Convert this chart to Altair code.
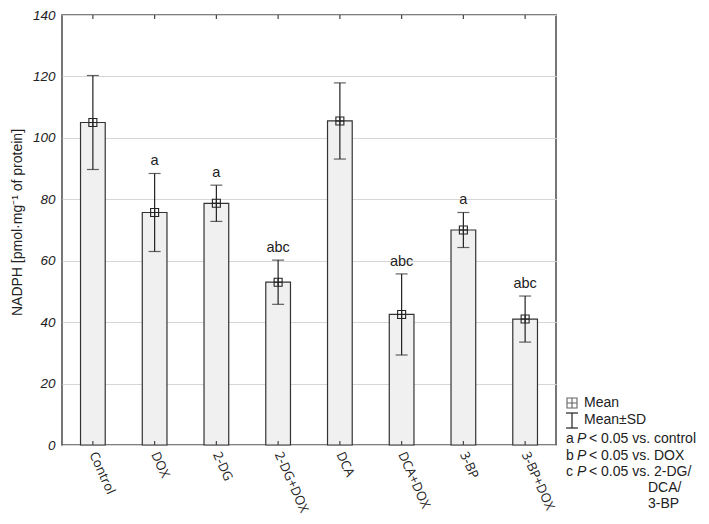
import altair as alt
import pandas as pd

groups = ["Control", "DOX", "2-DG", "2-DG+DOX", "DCA", "DCA+DOX", "3-BP", "3-BP+DOX"]
means = [105.0, 75.7, 78.7, 53.0, 105.5, 42.5, 70.0, 41.0]
sd_hi = [120.3, 88.4, 84.6, 60.2, 117.9, 55.7, 75.7, 48.5]
sd_lo = [89.7, 63.0, 72.8, 45.8, 93.1, 29.3, 64.3, 33.5]
letters = ["", "a", "a", "abc", "", "abc", "a", "abc"]
y_ticks = [0, 20, 40, 60, 80, 100, 120, 140]

legend_labels = ["Mean", "Mean±SD"]
sig_letters = ["a", "b", "c"]
sig_texts = ["< 0.05 vs. control", "< 0.05 vs. DOX", "< 0.05 vs. 2-DG/"]
sig_cont = ["DCA/", "3-BP"]

W, H = 494, 430
TOP = 7
FONT = "Liberation Sans"

df = pd.DataFrame({"group": groups, "mean": means, "hi": sd_hi, "lo": sd_lo, "letter": letters})

x = alt.X("group:N", sort=groups, title=None,
          scale=alt.Scale(paddingInner=0.6, paddingOuter=0.3),
          axis=alt.Axis(labelAngle=66, labelAlign="left", labelBaseline="middle",
                        labelPadding=7, labelFont="Open Sans", labelFontSize=13,
                        labelColor="#222", ticks=False, domain=False))
yscale = alt.Scale(domain=[0, 140], nice=False)
y = alt.Y("mean:Q", scale=yscale,
          title="NADPH [pmol·mg⁻¹ of protein]",
          axis=alt.Axis(values=y_ticks, labelFontStyle="italic", labelFontSize=13.5,
                        labelFont=FONT, labelColor="#222", labelPadding=7,
                        ticks=False, domain=False, grid=True, gridColor="#d6d6d6",
                        titleFont=FONT, titleFontSize=14, titleFontWeight="normal",
                        titleColor="#222", titlePadding=8, titleY=222 - 8 - TOP))

base = alt.Chart(df)

bars = base.mark_bar(fill="#f0f0f0", stroke="#333", strokeWidth=1.2).encode(x=x, y=y)

err = base.mark_rule(color="#222", strokeWidth=1.2).encode(
    x=alt.X("group:N", sort=groups), y=alt.Y("lo:Q", scale=yscale), y2="hi:Q")
cap_hi = base.mark_tick(color="#222", size=12, thickness=1.2, orient="horizontal").encode(
    x=alt.X("group:N", sort=groups), y=alt.Y("hi:Q", scale=yscale))
cap_lo = base.mark_tick(color="#222", size=12, thickness=1.2, orient="horizontal").encode(
    x=alt.X("group:N", sort=groups), y=alt.Y("lo:Q", scale=yscale))

sq_path = "M-1,-1H1V1H-1Z M0,-1V1 M-1,0H1"
pts = base.mark_point(shape=sq_path, size=64, filled=False, stroke="#222",
                      strokeWidth=1.1, opacity=1).encode(
    x=alt.X("group:N", sort=groups), y=alt.Y("mean:Q", scale=yscale))

lbl = base.mark_text(font=FONT, fontSize=14.5, color="#222", baseline="bottom", dy=-5).encode(
    x=alt.X("group:N", sort=groups), y=alt.Y("hi:Q", scale=yscale), text="letter:N")

tick_top = base.mark_rule(color="#444", strokeWidth=1.2).encode(
    x=alt.X("group:N", sort=groups), y=alt.value(0), y2=alt.value(4))
tick_bot = base.mark_rule(color="#444", strokeWidth=1.2).encode(
    x=alt.X("group:N", sort=groups), y=alt.value(H), y2=alt.value(H - 4))

# legend (chart coordinates: page y - OY, page x - 62)
OY = 8 + TOP
leg_df = pd.DataFrame({"t": [0]})
lb = alt.Chart(leg_df)
FS = 14
leg_layers = []
leg_layers.append(lb.mark_point(shape=sq_path, size=100, filled=False, stroke="#222",
                                strokeWidth=1.1).encode(x=alt.value(510), y=alt.value(403 - OY)))
leg_layers.append(lb.mark_rule(color="#222", strokeWidth=1.2).encode(
    x=alt.value(510), y=alt.value(413 - OY), y2=alt.value(428 - OY)))
leg_layers.append(lb.mark_rule(color="#222", strokeWidth=1.2).encode(
    x=alt.value(504), x2=alt.value(516), y=alt.value(413 - OY)))
leg_layers.append(lb.mark_rule(color="#222", strokeWidth=1.2).encode(
    x=alt.value(504), x2=alt.value(516), y=alt.value(428 - OY)))
for i, t in enumerate(legend_labels):
    leg_layers.append(lb.mark_text(font=FONT, fontSize=FS, color="#222", align="left",
                                   baseline="middle", text=t).encode(
        x=alt.value(522), y=alt.value(403 - OY + 17 * i)))
for i, (l, t) in enumerate(zip(sig_letters, sig_texts)):
    yy = 439 - OY + 16.5 * i
    leg_layers.append(lb.mark_text(font=FONT, fontSize=FS, color="#222", align="left",
                                   baseline="middle", text=l).encode(x=alt.value(504), y=alt.value(yy)))
    leg_layers.append(lb.mark_text(font=FONT, fontSize=FS, color="#222", align="left",
                                   baseline="middle", fontStyle="italic", text="P").encode(
        x=alt.value(515), y=alt.value(yy)))
    leg_layers.append(lb.mark_text(font=FONT, fontSize=FS, color="#222", align="left",
                                   baseline="middle", text=t).encode(x=alt.value(527), y=alt.value(yy)))
for i, t in enumerate(sig_cont):
    leg_layers.append(lb.mark_text(font=FONT, fontSize=FS, color="#222", align="left",
                                   baseline="middle", text=t).encode(
        x=alt.value(586), y=alt.value(488 - OY + 15.5 * i)))

chart = alt.layer(bars, err, cap_hi, cap_lo, pts, lbl, tick_top, tick_bot, *leg_layers).properties(
    width=W, height=H,
    autosize=alt.AutoSizeParams(type="none"),
    padding={"left": 54, "top": TOP, "right": 145, "bottom": 508 - TOP - H},
).configure_view(stroke="#555", strokeWidth=1.6)

chart.save("out.html", embed_options={"renderer": "svg", "actions": False})
